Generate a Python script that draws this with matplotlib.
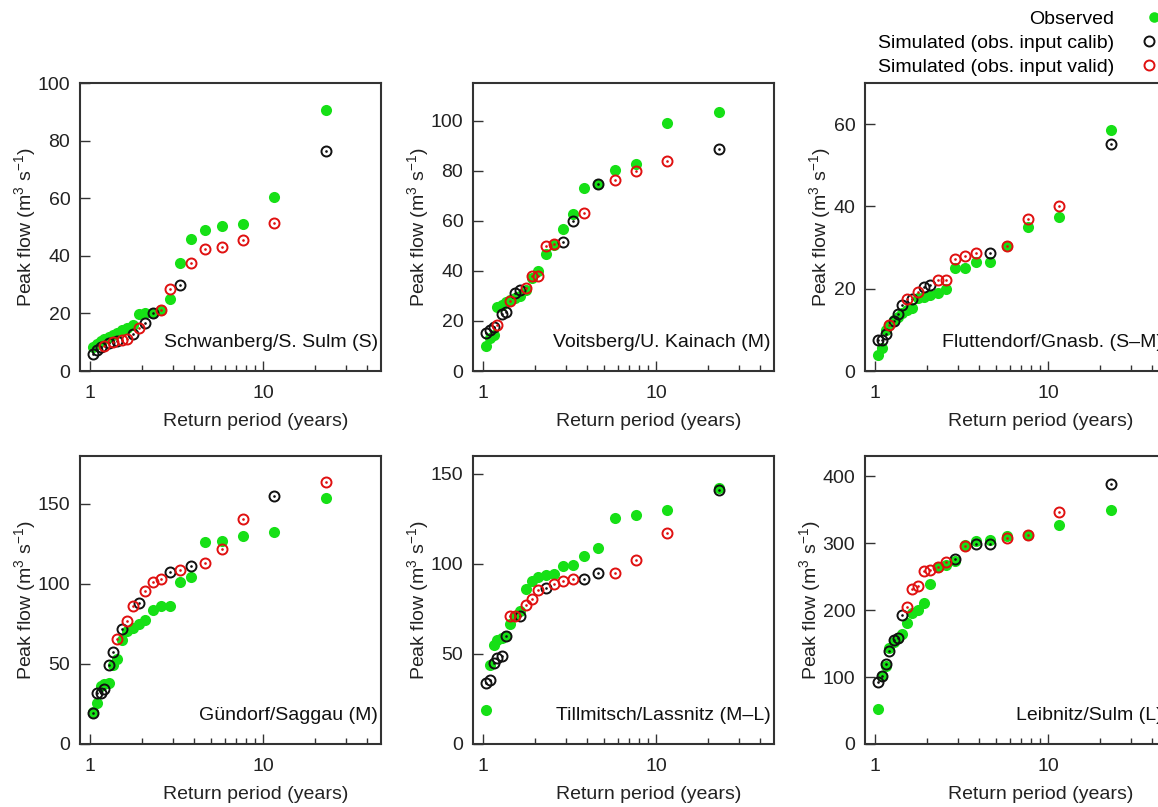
import matplotlib
matplotlib.use('Agg')
import matplotlib.pyplot as plt
from matplotlib.lines import Line2D
from matplotlib.legend_handler import HandlerTuple
from matplotlib.ticker import FixedLocator, NullFormatter

plt.rcParams['font.family'] = ['Liberation Sans', 'DejaVu Sans']
plt.rcParams['mathtext.fontset'] = 'custom'
plt.rcParams['mathtext.rm'] = 'Liberation Sans'
plt.rcParams['mathtext.it'] = 'Liberation Sans:italic'
plt.rcParams['font.size'] = 14

# return periods (years), same plotting positions for every gauge
periodo = [1.045, 1.095, 1.15, 1.21, 1.28, 1.35, 1.44, 1.53, 1.64, 1.77, 1.92,
           2.09, 2.3, 2.56, 2.88, 3.29, 3.83, 4.6, 5.75, 7.67, 11.5, 23.0]

estacoes = ['Schwanberg/S. Sulm (S)', 'Voitsberg/U. Kainach (M)', 'Fluttendorf/Gnasb. (S\u2013M)',
            'G\u00fcndorf/Saggau (M)', 'Tillmitsch/Lassnitz (M\u2013L)', 'Leibnitz/Sulm (L)']

# observed peak flows
obs_schwanberg = [8.5, 9.5, 10.3, 11.0, 11.8, 12.4, 13.2, 14.2, 15.0, 15.8, 19.7,
                  20.0, 20.3, 21.2, 25.0, 37.5, 46.0, 49.0, 50.5, 51.0, 60.5, 90.5]
obs_voitsberg = [9.8, 13.0, 14.2, 25.5, 26.5, 27.5, 28.3, 29.0, 30.0, 32.5, 37.2,
                 40.0, 46.8, 50.5, 56.8, 62.8, 72.9, 74.5, 80.2, 82.5, 99.0, 103.5]
obs_fluttendorf = [3.8, 5.7, 10.0, 11.2, 12.3, 13.2, 14.0, 14.8, 15.2, 17.8, 18.0,
                   18.4, 19.0, 19.9, 25.0, 25.1, 26.5, 26.6, 30.3, 35.0, 37.5, 58.5]
obs_gundorf = [20.3, 25.5, 36.5, 37.5, 38.0, 49.6, 53.2, 65.3, 70.5, 72.5, 74.7,
               77.2, 83.5, 86.2, 86.2, 101.5, 104.4, 126.4, 127.0, 130.0, 132.5, 154.0]
obs_tillmitsch = [19.0, 44.0, 55.2, 57.6, 59.0, 60.2, 66.4, 71.0, 73.8, 85.9, 90.5,
                  92.7, 93.7, 94.6, 98.9, 99.3, 104.5, 109.0, 125.5, 127.0, 130.0, 142.0]
obs_leibnitz = [52.0, 101.0, 116.0, 143.5, 152.0, 158.5, 163.5, 180.0, 196.0, 199.5, 210.0,
                239.5, 264.4, 267.4, 273.4, 297.4, 303.4, 304.0, 311.0, 312.0, 327.0, 349.0]

# simulated peak flows (sorted) and period each year belongs to: c = calibration, v = validation
sim_schwanberg = [6.0, 7.3, 8.3, 8.6, 9.7, 10.0, 10.3, 10.6, 11.0, 13.0, 15.0,
                  16.5, 20.3, 21.2, 28.5, 30.0, 37.5, 42.5, 43.0, 45.5, 51.5, 76.5]
per_schwanberg = 'cccvcvcvvcvccvvcvvvvvc'
sim_voitsberg = [15.1, 16.5, 17.5, 18.4, 22.9, 23.5, 27.8, 31.2, 32.5, 33.2, 37.8,
                 38.1, 50.1, 50.8, 51.5, 59.9, 63.0, 74.6, 76.3, 80.0, 84.0, 88.7]
per_voitsberg = 'cccvccvccvvvvvccvcvvvc'
sim_fluttendorf = [7.5, 7.6, 9.0, 11.3, 12.2, 13.8, 16.0, 17.4, 17.5, 19.3, 20.5,
                   20.8, 22.1, 22.1, 27.2, 28.0, 28.8, 28.8, 30.3, 37.0, 40.0, 55.2]
per_fluttendorf = 'cccvcccvcvccvvvvvcvvvc'
sim_gundorf = [19.3, 31.8, 31.8, 34.3, 49.6, 57.3, 65.7, 72.0, 76.8, 86.2, 88.3,
               95.6, 101.3, 103.4, 107.5, 108.8, 111.3, 113.0, 122.0, 140.5, 155.0, 164.0]
per_gundorf = 'ccccccvcvvcvvvcvcvvvcv'
sim_tillmitsch = [33.8, 35.7, 45.0, 47.8, 49.0, 59.9, 71.0, 71.0, 71.0, 77.5, 80.7,
                  85.5, 86.8, 88.7, 90.5, 91.9, 91.9, 94.8, 95.2, 102.0, 117.0, 141.0]
per_tillmitsch = 'ccccccvvcvvvcvvvccvvvc'
sim_leibnitz = [92.0, 101.0, 120.0, 138.5, 155.0, 158.0, 192.0, 204.5, 231.0, 236.0, 258.5,
                260.0, 265.0, 271.0, 276.0, 296.0, 298.5, 298.5, 307.0, 312.0, 346.0, 388.0]
per_leibnitz = 'ccccccc' + 'vvvvvvvc' + 'vccvvvc'

observados = [obs_schwanberg, obs_voitsberg, obs_fluttendorf, obs_gundorf, obs_tillmitsch, obs_leibnitz]
simulados = [sim_schwanberg, sim_voitsberg, sim_fluttendorf, sim_gundorf, sim_tillmitsch, sim_leibnitz]
periodos = [per_schwanberg, per_voitsberg, per_fluttendorf, per_gundorf, per_tillmitsch, per_leibnitz]

y_max = [100, 115, 70, 180, 160, 430]
y_passo = [20, 20, 20, 50, 50, 100]
y_topo_tick = [100, 100, 60, 150, 150, 400]

verde = '#16e016'
vermelho = '#e01010'
preto = '#111111'

W, H = 1158, 807
fig = plt.figure(figsize=(W / 100, H / 100), dpi=100)

esquerdas = [80, 473, 865]
fundos = [371, 744]
larg, alt = 301, 288

for k in range(6):
    lin, col = divmod(k, 3)
    ax = fig.add_axes([esquerdas[col] / W, 1 - fundos[lin] / H, larg / W, alt / H])
    ax.set_xscale('log')

    ax.scatter(periodo, observados[k], s=64, color=verde, linewidths=0, zorder=2)

    for cod, cor in (('c', preto), ('v', vermelho)):
        xs = [periodo[i] for i in range(22) if periodos[k][i] == cod]
        ys = [simulados[k][i] for i in range(22) if periodos[k][i] == cod]
        ax.plot(xs, ys, 'o', ms=7.2, mfc='none', mec=cor, mew=1.4, zorder=3)
        ax.plot(xs, ys, '.', ms=1.8, color=cor, zorder=3)

    ax.set_xlim(0.875, 48)
    ax.set_ylim(0, y_max[k])
    ax.set_xticks([1, 10])
    ax.set_xticklabels(['1', '10'])
    ax.xaxis.set_minor_locator(FixedLocator([2, 3, 4, 5, 6, 7, 8, 9, 20, 30, 40]))
    ax.xaxis.set_minor_formatter(NullFormatter())
    ax.set_yticks(list(range(0, y_topo_tick[k] + 1, y_passo[k])))

    ax.tick_params(which='major', direction='in', length=7, width=1.0, color='#333333',
                   labelsize=14, labelcolor='#222222')
    ax.tick_params(axis='x', which='major', pad=10)
    ax.tick_params(axis='y', which='major', pad=7)
    ax.tick_params(which='minor', direction='in', length=4, width=1.0, color='#333333')
    for sp in ax.spines.values():
        sp.set_linewidth(1.5)
        sp.set_color('#333333')

    ax.set_xlabel('Return period (years)', fontsize=14, color='#222222')
    ax.xaxis.set_label_coords(0.5 + 25 / larg, -42 / alt)
    ax.set_ylabel('Peak flow (m$^3$ s$^{-1}$)', fontsize=14, color='#222222', labelpad=0)
    ax.text(0.99, 0.10, estacoes[k], transform=ax.transAxes, ha='right', va='center',
            fontsize=14, color='#111111')

# legend top right
h_obs = Line2D([], [], ls='none', marker='o', ms=7.6, color=verde, mec='none')
h_cal = (Line2D([], [], ls='none', marker='o', ms=7.2, mfc='none', mec=preto, mew=1.4),
         Line2D([], [], ls='none', marker='.', ms=1.8, color=preto))
h_val = (Line2D([], [], ls='none', marker='o', ms=7.2, mfc='none', mec=vermelho, mew=1.4),
         Line2D([], [], ls='none', marker='.', ms=1.8, color=vermelho))
fig.legend([h_obs, h_cal, h_val],
           ['Observed', 'Simulated (obs. input calib)', 'Simulated (obs. input valid)'],
           handler_map={tuple: HandlerTuple(ndivide=None)},
           loc='upper right', bbox_to_anchor=(1164 / W, 1 - 10 / H), bbox_transform=fig.transFigure,
           markerfirst=False, frameon=False, borderpad=0, borderaxespad=0,
           handlelength=1.0, handletextpad=1.55, labelspacing=0.33, fontsize=14)

plt.savefig('out.png', dpi=100)
